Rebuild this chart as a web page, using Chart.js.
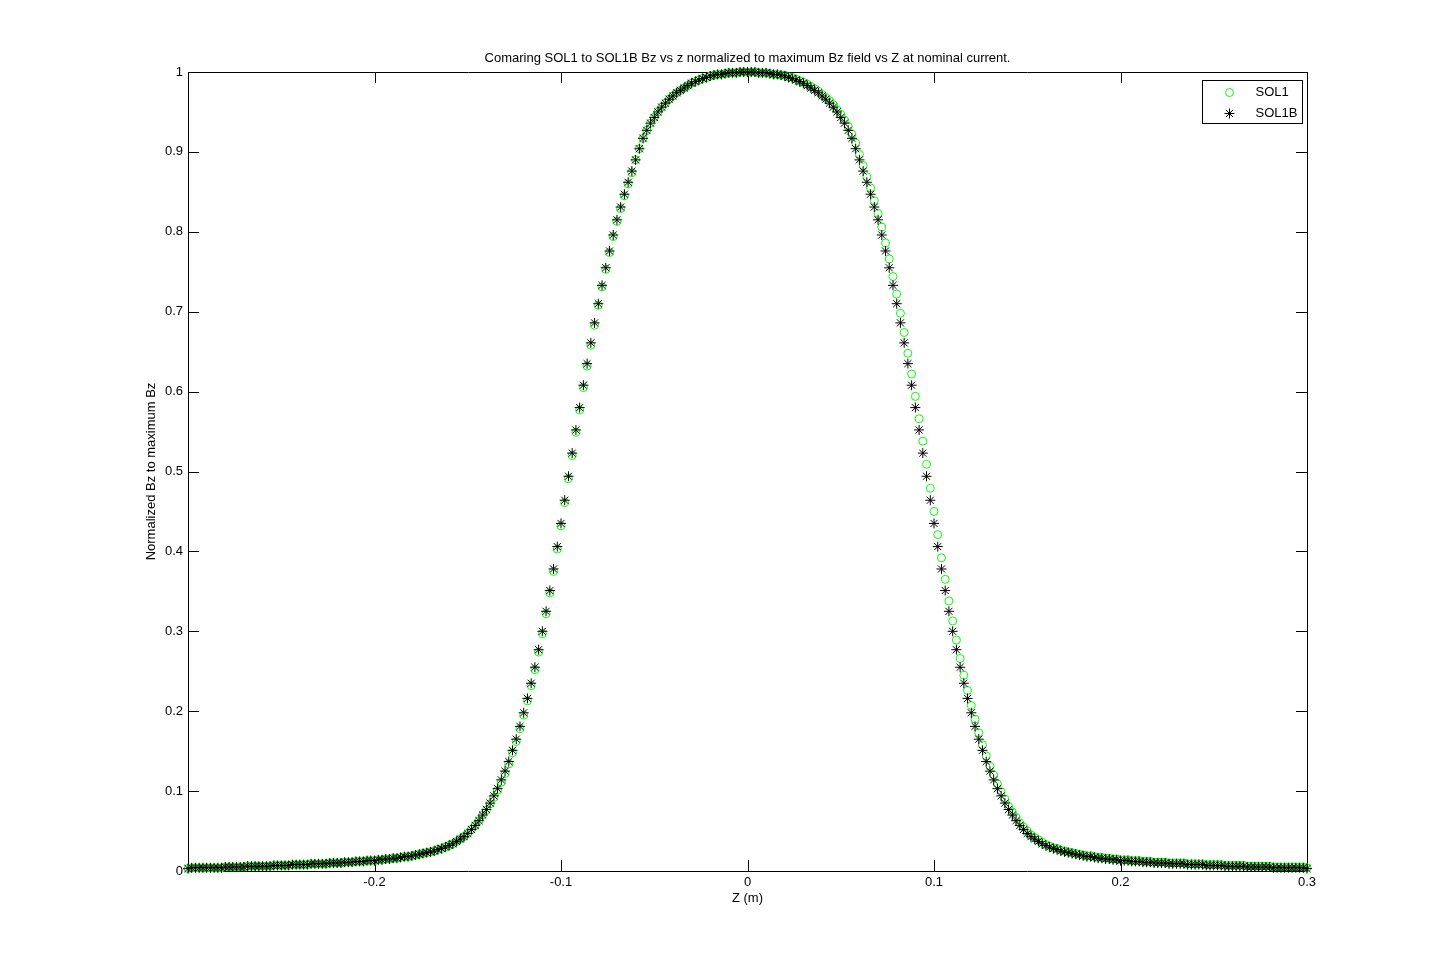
<!DOCTYPE html>
<html lang="en">
<head>
  <meta charset="UTF-8">
  <title>SOL1 vs SOL1B normalized Bz</title>
  <script src="https://cdn.jsdelivr.net/npm/chart.js"></script>
  <style>
    body {
      margin: 0;
      background: #ffffff;
    }
    canvas {
      display: block;
    }
  </style>
</head>
<body>
  <canvas id="fieldChart" width="1444" height="979" style="width:1444px;height:979px"></canvas>

  <script>
    // z positions (m), shared by both probes
    const zValues = [
      -0.300,-0.298,-0.296,-0.294,-0.292,-0.290,-0.288,-0.286,-0.284,-0.282,
      -0.280,-0.278,-0.276,-0.274,-0.272,-0.270,-0.268,-0.266,-0.264,-0.262,
      -0.260,-0.258,-0.256,-0.254,-0.252,-0.250,-0.248,-0.246,-0.244,-0.242,
      -0.240,-0.238,-0.236,-0.234,-0.232,-0.230,-0.228,-0.226,-0.224,-0.222,
      -0.220,-0.218,-0.216,-0.214,-0.212,-0.210,-0.208,-0.206,-0.204,-0.202,
      -0.200,-0.198,-0.196,-0.194,-0.192,-0.190,-0.188,-0.186,-0.184,-0.182,
      -0.180,-0.178,-0.176,-0.174,-0.172,-0.170,-0.168,-0.166,-0.164,-0.162,
      -0.160,-0.158,-0.156,-0.154,-0.152,-0.150,-0.148,-0.146,-0.144,-0.142,
      -0.140,-0.138,-0.136,-0.134,-0.132,-0.130,-0.128,-0.126,-0.124,-0.122,
      -0.120,-0.118,-0.116,-0.114,-0.112,-0.110,-0.108,-0.106,-0.104,-0.102,
      -0.100,-0.098,-0.096,-0.094,-0.092,-0.090,-0.088,-0.086,-0.084,-0.082,
      -0.080,-0.078,-0.076,-0.074,-0.072,-0.070,-0.068,-0.066,-0.064,-0.062,
      -0.060,-0.058,-0.056,-0.054,-0.052,-0.050,-0.048,-0.046,-0.044,-0.042,
      -0.040,-0.038,-0.036,-0.034,-0.032,-0.030,-0.028,-0.026,-0.024,-0.022,
      -0.020,-0.018,-0.016,-0.014,-0.012,-0.010,-0.008,-0.006,-0.004,-0.002,
      0.000,0.002,0.004,0.006,0.008,0.010,0.012,0.014,0.016,0.018,
      0.020,0.022,0.024,0.026,0.028,0.030,0.032,0.034,0.036,0.038,
      0.040,0.042,0.044,0.046,0.048,0.050,0.052,0.054,0.056,0.058,
      0.060,0.062,0.064,0.066,0.068,0.070,0.072,0.074,0.076,0.078,
      0.080,0.082,0.084,0.086,0.088,0.090,0.092,0.094,0.096,0.098,
      0.100,0.102,0.104,0.106,0.108,0.110,0.112,0.114,0.116,0.118,
      0.120,0.122,0.124,0.126,0.128,0.130,0.132,0.134,0.136,0.138,
      0.140,0.142,0.144,0.146,0.148,0.150,0.152,0.154,0.156,0.158,
      0.160,0.162,0.164,0.166,0.168,0.170,0.172,0.174,0.176,0.178,
      0.180,0.182,0.184,0.186,0.188,0.190,0.192,0.194,0.196,0.198,
      0.200,0.202,0.204,0.206,0.208,0.210,0.212,0.214,0.216,0.218,
      0.220,0.222,0.224,0.226,0.228,0.230,0.232,0.234,0.236,0.238,
      0.240,0.242,0.244,0.246,0.248,0.250,0.252,0.254,0.256,0.258,
      0.260,0.262,0.264,0.266,0.268,0.270,0.272,0.274,0.276,0.278,
      0.280,0.282,0.284,0.286,0.288,0.290,0.292,0.294,0.296,0.298,
      0.300
    ];

    // SOL1 normalized Bz (green circles)
    const sol1 = [
      0.003,0.004,0.004,0.004,0.004,0.004,0.004,0.004,0.004,0.004,
      0.005,0.005,0.005,0.005,0.005,0.005,0.006,0.006,0.006,0.006,
      0.006,0.006,0.006,0.007,0.007,0.007,0.007,0.007,0.008,0.008,
      0.008,0.008,0.008,0.009,0.009,0.009,0.009,0.009,0.010,0.010,
      0.010,0.010,0.011,0.011,0.011,0.012,0.012,0.012,0.013,0.013,
      0.013,0.014,0.014,0.015,0.015,0.016,0.016,0.017,0.018,0.018,
      0.019,0.020,0.021,0.022,0.023,0.024,0.025,0.027,0.028,0.030,
      0.032,0.034,0.037,0.040,0.043,0.047,0.052,0.057,0.063,0.070,
      0.076,0.084,0.092,0.101,0.111,0.122,0.134,0.148,0.162,0.178,
      0.195,0.213,0.232,0.252,0.274,0.297,0.322,0.348,0.375,0.403,
      0.432,0.461,0.491,0.520,0.549,0.577,0.605,0.632,0.658,0.683,
      0.708,0.731,0.753,0.774,0.794,0.813,0.829,0.845,0.860,0.874,
      0.890,0.904,0.917,0.927,0.936,0.943,0.950,0.956,0.961,0.966,
      0.970,0.974,0.977,0.980,0.983,0.986,0.988,0.990,0.992,0.993,
      0.995,0.996,0.997,0.997,0.998,0.999,0.999,0.999,1.000,1.000,
      1.000,1.000,1.000,0.999,0.999,0.999,0.998,0.997,0.997,0.996,
      0.996,0.994,0.993,0.991,0.989,0.987,0.985,0.982,0.979,0.976,
      0.972,0.968,0.964,0.959,0.953,0.947,0.940,0.932,0.922,0.911,
      0.897,0.883,0.869,0.855,0.839,0.823,0.806,0.786,0.766,0.744,
      0.722,0.698,0.674,0.648,0.622,0.594,0.566,0.538,0.509,0.479,
      0.450,0.421,0.392,0.365,0.338,0.313,0.289,0.266,0.245,0.226,
      0.207,0.190,0.173,0.158,0.144,0.131,0.120,0.109,0.099,0.090,
      0.081,0.074,0.067,0.060,0.055,0.050,0.045,0.042,0.039,0.036,
      0.033,0.031,0.029,0.028,0.026,0.025,0.024,0.023,0.022,0.021,
      0.020,0.019,0.019,0.018,0.017,0.017,0.016,0.016,0.015,0.015,
      0.014,0.014,0.014,0.013,0.013,0.013,0.012,0.012,0.012,0.011,
      0.011,0.011,0.011,0.010,0.010,0.010,0.010,0.010,0.009,0.009,
      0.009,0.009,0.009,0.008,0.008,0.008,0.008,0.008,0.007,0.007,
      0.007,0.007,0.007,0.007,0.006,0.006,0.006,0.006,0.006,0.006,
      0.006,0.005,0.005,0.005,0.005,0.005,0.005,0.005,0.005,0.005,
      0.004
    ];

    // SOL1B normalized Bz (black stars)
    const sol1b = [
      0.003,0.004,0.004,0.004,0.004,0.004,0.004,0.004,0.004,0.004,
      0.005,0.005,0.005,0.005,0.005,0.005,0.006,0.006,0.006,0.006,
      0.006,0.006,0.006,0.007,0.007,0.007,0.007,0.007,0.008,0.008,
      0.008,0.008,0.008,0.009,0.009,0.009,0.009,0.009,0.010,0.010,
      0.010,0.010,0.011,0.011,0.011,0.012,0.012,0.012,0.013,0.013,
      0.013,0.014,0.014,0.015,0.015,0.016,0.016,0.017,0.018,0.018,
      0.019,0.020,0.021,0.022,0.023,0.024,0.025,0.027,0.028,0.030,
      0.032,0.034,0.037,0.040,0.043,0.047,0.052,0.057,0.063,0.070,
      0.077,0.085,0.094,0.103,0.114,0.125,0.137,0.151,0.165,0.181,
      0.198,0.216,0.235,0.255,0.277,0.300,0.325,0.351,0.378,0.406,
      0.435,0.464,0.494,0.523,0.552,0.580,0.608,0.635,0.661,0.686,
      0.710,0.733,0.755,0.776,0.796,0.815,0.831,0.847,0.862,0.876,
      0.890,0.904,0.917,0.927,0.936,0.943,0.950,0.956,0.961,0.966,
      0.970,0.974,0.977,0.980,0.983,0.986,0.988,0.990,0.992,0.993,
      0.995,0.996,0.997,0.997,0.998,0.999,0.999,0.999,1.000,1.000,
      1.000,1.000,1.000,0.999,0.999,0.999,0.998,0.997,0.997,0.996,
      0.995,0.993,0.992,0.990,0.988,0.986,0.983,0.980,0.977,0.974,
      0.970,0.966,0.961,0.956,0.950,0.943,0.936,0.927,0.917,0.904,
      0.890,0.876,0.862,0.847,0.831,0.815,0.796,0.776,0.755,0.733,
      0.710,0.686,0.661,0.635,0.608,0.580,0.552,0.523,0.494,0.464,
      0.435,0.406,0.378,0.351,0.325,0.300,0.277,0.255,0.235,0.216,
      0.198,0.181,0.165,0.151,0.137,0.125,0.114,0.103,0.094,0.085,
      0.077,0.070,0.063,0.057,0.052,0.047,0.043,0.040,0.037,0.034,
      0.032,0.030,0.028,0.027,0.025,0.024,0.023,0.022,0.021,0.020,
      0.019,0.018,0.018,0.017,0.016,0.016,0.015,0.015,0.014,0.014,
      0.013,0.013,0.013,0.012,0.012,0.012,0.011,0.011,0.011,0.010,
      0.010,0.010,0.010,0.009,0.009,0.009,0.009,0.009,0.008,0.008,
      0.008,0.008,0.008,0.007,0.007,0.007,0.007,0.007,0.006,0.006,
      0.006,0.006,0.006,0.006,0.005,0.005,0.005,0.005,0.005,0.005,
      0.005,0.004,0.004,0.004,0.004,0.004,0.004,0.004,0.004,0.004,
      0.003
    ];

    const xTicks = [-0.2, -0.1, 0, 0.1, 0.2, 0.3];
    const yTicks = [0, 0.1, 0.2, 0.3, 0.4, 0.5, 0.6, 0.7, 0.8, 0.9, 1];
    const seriesNames = ['SOL1', 'SOL1B'];

    const toPoints = ys => zValues.map((z, i) => ({ x: z, y: ys[i] }));

    Chart.defaults.font.family = '"Liberation Sans", Arial, Helvetica, sans-serif';
    Chart.defaults.font.size = 13;
    Chart.defaults.color = '#000000';

    // matlab style box with inward ticks
    const boxAxes = {
      id: 'boxAxes',
      beforeDatasetsDraw(chart) {
        const ctx = chart.ctx;
        const a = chart.chartArea;
        const xs = chart.scales.x, ys = chart.scales.y;
        const len = 11;
        ctx.save();
        ctx.strokeStyle = '#000000';
        ctx.lineWidth = 1;
        ctx.beginPath();
        ctx.rect(Math.round(a.left) + 0.5, Math.round(a.top) + 0.5,
                 Math.round(a.right - a.left), Math.round(a.bottom - a.top));
        xTicks.forEach(v => {
          const px = Math.round(xs.getPixelForValue(v)) + 0.5;
          ctx.moveTo(px, a.bottom); ctx.lineTo(px, a.bottom - len);
          ctx.moveTo(px, a.top); ctx.lineTo(px, a.top + len);
        });
        yTicks.forEach(v => {
          const py = Math.round(ys.getPixelForValue(v)) + 0.5;
          ctx.moveTo(a.left, py); ctx.lineTo(a.left + len, py);
          ctx.moveTo(a.right, py); ctx.lineTo(a.right - len, py);
        });
        ctx.stroke();
        ctx.restore();
      }
    };

    // legend box in the top right corner of the axes
    const insideLegend = {
      id: 'insideLegend',
      afterDraw(chart) {
        const ctx = chart.ctx;
        const a = chart.chartArea;
        const bx = Math.round(a.right) - 105 + 0.5;
        const by = Math.round(a.top) + 8 + 0.5;
        ctx.save();
        ctx.fillStyle = '#ffffff';
        ctx.strokeStyle = '#000000';
        ctx.lineWidth = 1;
        ctx.fillRect(bx, by, 100, 43);
        ctx.strokeRect(bx, by, 100, 43);

        const mx = bx + 27;
        const y1 = by + 12, y2 = by + 33;
        ctx.strokeStyle = '#00ff00';
        ctx.beginPath();
        ctx.arc(mx, y1, 4, 0, Math.PI * 2);
        ctx.stroke();

        ctx.strokeStyle = '#000000';
        ctx.beginPath();
        const r = 5, d = 5 * Math.SQRT1_2;
        ctx.moveTo(mx - r, y2); ctx.lineTo(mx + r, y2);
        ctx.moveTo(mx, y2 - r); ctx.lineTo(mx, y2 + r);
        ctx.moveTo(mx - d, y2 - d); ctx.lineTo(mx + d, y2 + d);
        ctx.moveTo(mx - d, y2 + d); ctx.lineTo(mx + d, y2 - d);
        ctx.stroke();

        ctx.fillStyle = '#000000';
        ctx.font = '13px "Liberation Sans", Arial, sans-serif';
        ctx.textBaseline = 'middle';
        ctx.fillText(seriesNames[0], bx + 53, y1);
        ctx.fillText(seriesNames[1], bx + 53, y2);
        ctx.restore();
      }
    };

    new Chart(document.getElementById('fieldChart'), {
      type: 'scatter',
      data: {
        datasets: [
          {
            label: seriesNames[0],
            data: toPoints(sol1),
            pointStyle: 'circle',
            pointRadius: 4,
            borderWidth: 1,
            borderColor: '#00ff00',
            backgroundColor: 'rgba(0,0,0,0)',
            order: 1,
            clip: false
          },
          {
            label: seriesNames[1],
            data: toPoints(sol1b),
            pointStyle: 'star',
            pointRadius: 5,
            borderWidth: 1,
            borderColor: '#000000',
            backgroundColor: '#000000',
            order: 0,
            clip: false
          }
        ]
      },
      options: {
        responsive: false,
        animation: false,
        layout: {
          padding: { left: 51, right: 0, top: 0, bottom: 0 }
        },
        plugins: {
          legend: { display: false },
          tooltip: { enabled: false },
          title: {
            display: true,
            text: 'Comaring SOL1 to SOL1B Bz vs z normalized to maximum Bz field vs Z at nominal current.',
            font: { size: 13, weight: 'normal' },
            color: '#000000',
            padding: { top: 50.2, bottom: 6.2 }
          }
        },
        scales: {
          x: {
            type: 'linear',
            min: -0.3,
            max: 0.3,
            grid: { display: false, drawTicks: false },
            border: { display: false },
            afterBuildTicks: s => { s.ticks = xTicks.map(v => ({ value: v })); },
            afterFit: s => { s.height = 108; },
            ticks: {
              autoSkip: false,
              maxRotation: 0,
              padding: 4,
              callback: v => String(v)
            },
            title: {
              display: true,
              text: 'Z (m)',
              font: { size: 13 },
              padding: { top: 0, bottom: 73.2 }
            }
          },
          y: {
            type: 'linear',
            min: 0,
            max: 1,
            grid: { display: false, drawTicks: false },
            border: { display: false },
            afterBuildTicks: s => { s.ticks = yTicks.map(v => ({ value: v })); },
            afterFit: s => { s.width = 137; },
            ticks: {
              autoSkip: false,
              padding: 5,
              callback: v => String(v)
            },
            title: {
              display: true,
              text: 'Normalized Bz to maximum Bz',
              font: { size: 13 },
              padding: { top: 92.2, bottom: 0 }
            }
          },
          // empty axis that only reserves the right margin
          yRight: {
            type: 'linear',
            position: 'right',
            display: true,
            grid: { display: false, drawTicks: false },
            border: { display: false },
            ticks: { display: false },
            afterFit: s => { s.width = 137; }
          }
        }
      },
      plugins: [boxAxes, insideLegend]
    });
  </script>
</body>
</html>
